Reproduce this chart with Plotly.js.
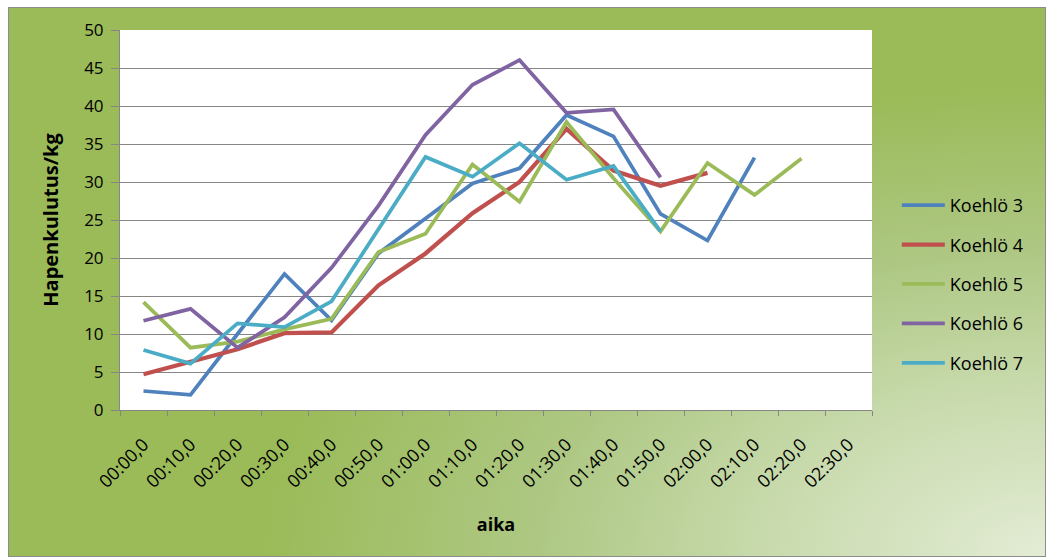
<!DOCTYPE html>
<html>
<head>
<meta charset="utf-8">
<script src="https://cdn.plot.ly/plotly-3.0.1.min.js"></script>
<style>
  html, body { margin: 0; padding: 0; background: #ffffff; }
  #bg {
    position: absolute; left: 8px; top: 7px; width: 1036px; height: 548px;
    border: 1px solid #8c8c8c;
    background: radial-gradient(ellipse 75% 85% at 100% 100%, #e3ecd5 0%, #c9dbae 35%, #aec884 65%, #9bbb59 100%);
  }
  #chart { position: absolute; left: 0; top: 0; width: 1051px; height: 560px; }
</style>
</head>
<body>
<div id="bg"></div>
<div id="chart"></div>
<script>
const categories = ["00:00,0","00:10,0","00:20,0","00:30,0","00:40,0","00:50,0","01:00,0","01:10,0",
                    "01:20,0","01:30,0","01:40,0","01:50,0","02:00,0","02:10,0","02:20,0","02:30,0"];

const seriesNames = ["Koehlö 3","Koehlö 4","Koehlö 5","Koehlö 6","Koehlö 7"];

const koehlo3 = [2.5, 2.0, 10.0, 17.9, 11.8, 20.6, 25.2, 29.8, 31.8, 38.8, 36.0, 25.8, 22.3, 33.2, null, null];
const koehlo4 = [4.7, 6.4, 8.0, 10.1, 10.2, 16.4, 20.6, 25.9, 30.0, 37.0, 31.5, 29.5, 31.2, null, null, null];
const koehlo5 = [14.2, 8.2, 9.0, 10.6, 12.0, 20.8, 23.2, 32.3, 27.4, 37.9, 30.5, 23.5, 32.5, 28.3, 33.1, null];
const koehlo6 = [11.75, 13.3, 8.2, 12.2, 18.7, 26.9, 36.2, 42.8, 46.05, 39.1, 39.55, 30.6, null, null, null, null];
const koehlo7 = [7.9, 6.1, 11.4, 10.9, 14.3, 23.8, 33.3, 30.7, 35.1, 30.3, 32.1, 23.5, null, null, null, null];

const values = [koehlo3, koehlo4, koehlo5, koehlo6, koehlo7];
const colors = ["#4f81bd", "#c0504d", "#9bbb59", "#8064a2", "#4bacc6"];
const widths = [3.75, 4.25, 3.75, 3.75, 3.75];

const traces = values.map((v, i) => ({
  type: "scatter",
  mode: "lines",
  x: categories,
  y: v,
  name: seriesNames[i],
  legendgroup: "g" + i,
  line: { color: colors[i], width: widths[i] },
  connectgaps: false,
  hoverinfo: "skip"
}));

const gridColor = "#868686";
const fontFam = "'Open Sans', sans-serif";

const layout = {
  width: 1051,
  height: 560,
  margin: { l: 120, r: 179, t: 30, b: 150 },
  paper_bgcolor: "rgba(0,0,0,0)",
  plot_bgcolor: "#ffffff",
  font: { family: fontFam, color: "#000000" },
  showlegend: true,
  legend: {
    x: 1.033, xanchor: "left",
    y: 0.3316, yanchor: "middle",
    font: { family: fontFam, size: 18, color: "#000000" },
    bgcolor: "rgba(0,0,0,0)",
    tracegroupgap: 13,
    itemwidth: 43
  },
  xaxis: {
    type: "category",
    categoryorder: "array",
    categoryarray: categories,
    range: [-0.5, 15.5],
    tickson: "boundaries",
    ticks: "outside",
    ticklen: 5,
    tickcolor: gridColor,
    tickwidth: 1,
    showline: true,
    linecolor: gridColor,
    linewidth: 1,
    showgrid: false,
    zeroline: false,
    tickangle: -45,
    ticklabelstandoff: 16,
    tickfont: { family: fontFam, size: 18, color: "#000000" },
    title: { text: "aika", font: { family: fontFam, size: 18, color: "#000000", weight: "bold" }, standoff: 26 },
    fixedrange: true
  },
  yaxis: {
    range: [0, 50],
    dtick: 5,
    tick0: 0,
    ticks: "outside",
    ticklen: 8,
    tickcolor: gridColor,
    tickwidth: 1,
    showline: true,
    linecolor: gridColor,
    linewidth: 1,
    showgrid: true,
    gridcolor: gridColor,
    gridwidth: 1,
    zeroline: false,
    ticklabelstandoff: 4,
    tickfont: { family: fontFam, size: 17, color: "#000000" },
    title: { text: "Hapenkulutus/kg", font: { family: fontFam, size: 20, color: "#000000", weight: "bold" }, standoff: 20 },
    fixedrange: true
  },
  hovermode: false
};

Plotly.newPlot("chart", traces, layout, { displayModeBar: false, staticPlot: true });
</script>
</body>
</html>
